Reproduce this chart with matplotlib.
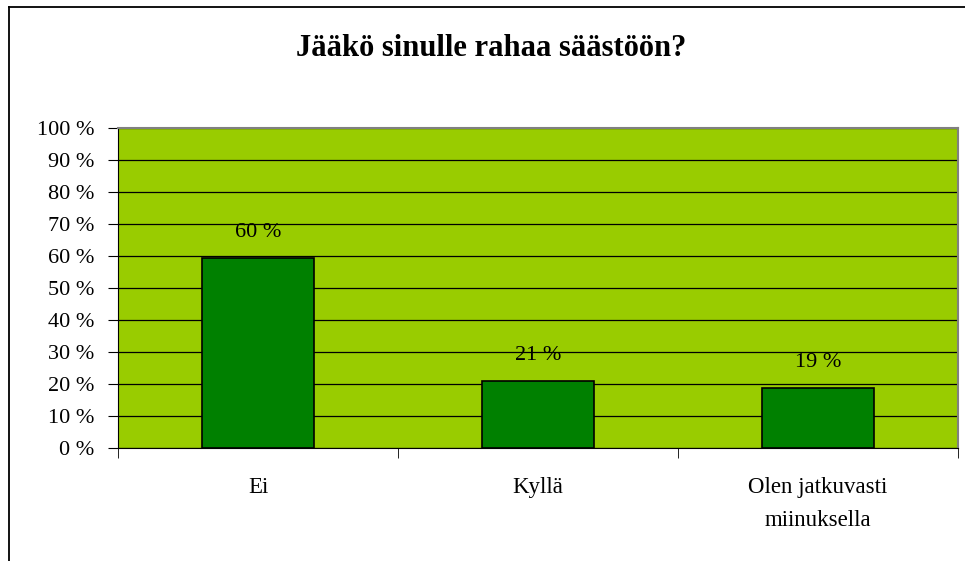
import matplotlib
matplotlib.use("Agg")
import matplotlib.pyplot as plt
from matplotlib.lines import Line2D
import numpy as np

categories = ["Ei", "Kyllä", "Olen jatkuvasti\nmiinuksella"]
values = [59.3, 21.0, 18.6]
value_labels = ["60 %", "21 %", "19 %"]
yticks = list(range(0, 101, 10))
title = "Jääkö sinulle rahaa säästöön?"

plt.rcParams['font.family'] = ['Liberation Serif', 'DejaVu Serif']

W, H = 965, 561
fig = plt.figure(figsize=(W / 100, H / 100), dpi=100)
fig.patch.set_facecolor('white')

# frame (left and top only, the chart is cropped)
fig.add_artist(Line2D([9 / W, 9 / W], [0, 1 - 7 / H], transform=fig.transFigure, color='black', lw=1.3))
fig.add_artist(Line2D([9 / W, 1], [1 - 7 / H, 1 - 7 / H], transform=fig.transFigure, color='black', lw=1.3))

left, right, top, bottom = 118, 958, 128, 448
ax = fig.add_axes([left / W, 1 - bottom / H, (right - left) / W, (bottom - top) / H])
ax.set_facecolor('#99CC00')

x = np.arange(len(categories))
ax.set_axisbelow(True)
ax.yaxis.grid(True, color='black', lw=0.9)
bars = ax.bar(x, values, width=0.4, color='#008000', edgecolor='black', lw=1.2, zorder=3)

ax.set_xlim(-0.5, len(categories) - 0.5)
ax.set_ylim(0, 100)
ax.set_yticks(yticks)
ax.set_yticklabels([f"{t} %" for t in yticks], fontsize=16)

ax.set_xticks(x)
ax.set_xticklabels(categories, fontsize=16.5, linespacing=1.75)
ax.tick_params(axis='x', length=0, pad=21)
ax.set_xticks(np.arange(len(categories) + 1) - 0.5, minor=True)
ax.tick_params(axis='x', which='minor', length=7, direction='out', color='black')
ax.tick_params(axis='y', length=7, direction='out', color='black', pad=10)

for s in ['top', 'right']:
    ax.spines[s].set_color('#808080')
    ax.spines[s].set_linewidth(1.5)
ax.spines['left'].set_color('black')
ax.spines['bottom'].set_color('black')

for b, v, lab in zip(bars, values, value_labels):
    ax.annotate(lab, (b.get_x() + b.get_width() / 2, v), xytext=(0, 18.5),
                textcoords='offset points', ha='center', va='center', fontsize=16)

fig.text((293 + 690) / 2 / W, 1 - 48 / H, title, ha='center', va='center', fontsize=22, fontweight='bold')

fig.savefig("out.png", dpi=100)
